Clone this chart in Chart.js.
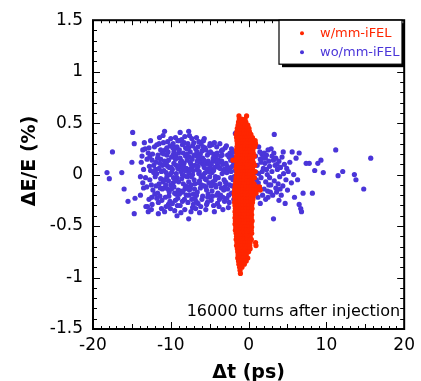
<!DOCTYPE html>
<html>
<head>
<meta charset="utf-8">
<script src="https://cdn.jsdelivr.net/npm/chart.js@4"></script>
<style>
  body { margin: 0; background: #fff; }
  canvas { display: block; }
</style>
</head>
<body>
<canvas id="chart" width="421" height="381"></canvas>
<script>
// axis ranges / tick labels
const xTicks = [-20, -10, 0, 10, 20];
const yTicks = [-1.5, -1, -0.5, 0, 0.5, 1, 1.5];

// wo/mm-iFEL : [dt (ps), dE/E (%)]
const woIFEL = [
  [-18.2,0.02],[-17.9,-0.04],[-17.5,0.22],[-16.3,0.02],[-16.0,-0.14],[-15.5,-0.26],[-14.9,0.41],
  [-14.7,-0.38],[-14.6,-0.23],[-14.7,0.30],[-15.0,0.12],[-13.6,0.24],[-13.5,-0.13],[-13.0,-0.31],[-12.5,-0.34],
  [-13.8,0.12],[-13.6,-0.08],[-13.9,-0.2],[-13.3,0.25],[-13.5,0.05],[-13.2,-0.31],[-13.7,0.18],[-13.1,-0.12],[-13.4,0.31],[-13.9,-0.02],
  [-12.9,0.21],[-12.7,-0.05],[-12.4,0.14],[-12.8,-0.24],[-12.2,0.02],[-12.6,0.33],[-12.3,-0.15],[-12.1,0.27],[-12.9,-0.36],[-12.5,-0.1],
  [-12.2,0.09],[-12.7,0.17],[-12.4,-0.29],[-12.0,-0.02],[-12.6,0.04],[-12.8,0.26],
  [-12.35,0.2],[-12.05,-0.19],[-12.75,0.08],[-13.25,-0.03],[-13.05,0.15],[-12.45,-0.22],
  [-11.9,0.12],[-11.7,-0.18],[-11.5,0.3],[-11.3,-0.04],[-11.1,0.21],[-11.8,0.01],[-11.6,-0.27],[-11.4,0.11],[-11.2,-0.33],[-11.0,0.38],
  [-11.9,-0.11],[-11.5,0.06],[-11.3,0.24],[-11.7,0.16],[-11.1,-0.14],[-11.6,-0.38],[-11.2,0.03],[-11.4,-0.21],[-11.8,0.29],[-11.0,-0.07],
  [-11.3,0.15],[-11.5,-0.09],[-11.95,0.05],[-11.65,0.19],[-11.35,-0.13],[-11.05,0.09],[-11.8,-0.23],[-11.45,0.36],[-11.15,-0.25],
  [-10.9,0.04],[-10.7,-0.22],[-10.5,0.19],[-10.3,-0.06],[-10.1,0.28],[-10.8,0.13],[-10.6,-0.31],[-10.4,0.08],[-10.2,-0.17],[-10.0,0.35],
  [-10.9,-0.13],[-10.7,0.24],[-10.5,-0.02],[-10.3,0.14],[-10.1,-0.26],[-10.8,-0.36],[-10.6,0.02],[-10.4,0.32],[-10.2,0.07],[-10.0,-0.1],
  [-10.7,0.1],[-10.3,-0.29],[-10.5,0.26],[-10.1,0.0],[-10.9,0.2],[-10.4,-0.14],[-10.8,0.42],
  [-10.85,-0.05],[-10.55,0.12],[-10.25,-0.21],[-10.95,0.31],[-10.65,-0.1],[-10.35,0.22],[-10.05,-0.33],
  [-9.9,0.17],[-9.7,-0.08],[-9.5,0.25],[-9.3,-0.19],[-9.1,0.06],[-9.8,-0.28],[-9.6,0.11],[-9.4,0.36],[-9.2,-0.03],[-9.0,0.21],
  [-9.9,-0.14],[-9.7,0.3],[-9.5,-0.35],[-9.3,0.01],[-9.1,-0.23],[-9.8,0.05],[-9.6,-0.12],[-9.4,0.15],[-9.2,0.27],[-9.0,-0.07],
  [-9.7,0.19],[-9.3,0.09],[-9.5,-0.18],[-9.1,0.33],[-9.9,0.02],[-9.4,-0.25],[-9.6,0.22],[-9.2,-0.4],
  [-9.95,0.07],[-9.65,-0.03],[-9.35,0.18],[-9.05,-0.15],[-9.75,0.26],[-9.45,-0.06],[-9.15,-0.3],
  [-8.9,0.08],[-8.7,-0.16],[-8.5,0.29],[-8.3,-0.01],[-8.1,0.18],[-8.8,-0.3],[-8.6,0.13],[-8.4,-0.09],[-8.2,0.37],[-8.0,-0.2],
  [-8.9,0.24],[-8.7,0.03],[-8.5,-0.26],[-8.3,0.11],[-8.1,-0.11],[-8.8,0.16],[-8.6,-0.04],[-8.4,0.21],[-8.2,-0.34],[-8.0,0.06],
  [-8.7,-0.37],[-8.3,0.31],[-8.5,0.0],[-8.1,0.26],[-8.9,-0.19],[-8.4,0.09],[-8.6,0.34],[-8.2,-0.14],[-8.8,0.41],
  [-8.75,0.12],[-8.45,-0.17],[-8.15,0.04],[-8.85,0.33],[-8.55,0.07],[-8.25,-0.24],
  [-7.9,0.14],[-7.7,-0.07],[-7.5,0.22],[-7.3,-0.24],[-7.1,0.04],[-7.8,0.3],[-7.6,-0.15],[-7.4,0.1],[-7.2,-0.32],[-7.0,0.19],
  [-7.9,-0.02],[-7.7,0.26],[-7.5,-0.12],[-7.3,0.07],[-7.1,-0.19],[-7.8,-0.27],[-7.6,0.17],[-7.4,-0.36],[-7.2,0.28],[-7.0,-0.05],
  [-7.7,0.02],[-7.3,0.35],[-7.5,0.12],[-7.1,-0.29],[-7.9,0.2],[-7.4,-0.1],[-7.6,0.38],[-7.2,0.0],[-7.7,0.42],[-7.7,-0.43],
  [-7.85,-0.12],[-7.55,0.05],[-7.25,0.15],[-7.95,0.25],[-7.65,-0.2],[-7.35,-0.02],[-7.05,0.31],
  [-6.9,0.09],[-6.7,-0.2],[-6.5,0.27],[-6.3,-0.06],[-6.1,0.15],[-6.8,-0.33],[-6.6,0.05],[-6.4,0.32],[-6.2,-0.13],[-6.0,0.23],
  [-6.9,-0.09],[-6.7,0.18],[-6.5,-0.28],[-6.3,0.12],[-6.1,-0.02],[-6.8,0.25],[-6.6,-0.17],[-6.4,0.01],[-6.2,0.2],[-6.0,-0.24],
  [-6.7,0.36],[-6.3,-0.37],[-6.5,0.08],[-6.1,0.3],[-6.9,-0.23],[-6.4,-0.08],[-6.6,0.13],
  [-6.95,-0.14],[-6.65,0.22],[-6.35,0.03],[-6.05,-0.1],[-6.75,-0.26],[-6.45,0.17],[-6.15,-0.31],
  [-5.9,0.16],[-5.7,-0.11],[-5.5,0.24],[-5.3,-0.27],[-5.1,0.03],[-5.8,0.33],[-5.6,-0.04],[-5.4,0.11],[-5.2,-0.19],[-5.0,0.28],
  [-5.9,-0.21],[-5.7,0.07],[-5.5,-0.34],[-5.3,0.19],[-5.1,-0.08],[-5.8,0.0],[-5.6,0.26],[-5.4,-0.15],[-5.2,0.13],[-5.0,-0.02],
  [-5.7,0.35],[-5.3,0.05],[-5.5,-0.12],[-5.1,0.21],[-5.9,0.1],[-5.4,-0.29],
  [-5.75,0.14],[-5.45,-0.05],[-5.15,0.1],[-5.85,0.27],[-5.55,0.02],[-5.25,-0.22],
  [-4.9,0.06],[-4.7,-0.16],[-4.5,0.2],[-4.3,-0.05],[-4.1,0.27],[-4.8,-0.25],[-4.6,0.13],[-4.4,0.31],[-4.2,-0.12],[-4.0,0.09],
  [-4.9,0.22],[-4.7,0.02],[-4.5,-0.3],[-4.3,0.15],[-4.1,-0.2],[-4.8,0.1],[-4.6,-0.07],[-4.4,-0.36],[-4.2,0.18],[-4.0,-0.28],
  [-4.7,0.29],[-4.3,-0.1],[-4.5,0.04],[-4.1,0.12],
  [-4.85,-0.11],[-4.55,0.16],[-4.25,-0.02],[-4.95,0.3],[-4.65,-0.21],[-4.35,0.07],[-4.05,0.21],
  [-3.9,0.14],[-3.7,-0.09],[-3.5,0.23],[-3.3,-0.22],[-3.1,0.05],[-3.8,-0.31],[-3.6,0.18],[-3.4,0.01],[-3.2,-0.15],[-3.0,0.26],
  [-3.9,-0.03],[-3.7,0.3],[-3.5,-0.13],[-3.3,0.1],[-3.1,-0.26],[-3.8,0.07],[-3.6,-0.2],[-3.4,0.19],[-3.2,0.03],[-3.0,-0.07],
  [-3.7,0.12],[-3.3,-0.34],
  [-3.95,-0.18],[-3.65,0.06],[-3.35,0.24],[-3.05,-0.12],[-3.75,-0.24],[-3.45,0.13],[-3.15,-0.05],
  [-2.9,0.11],[-2.7,-0.14],[-2.5,0.17],[-2.3,-0.03],[-2.1,0.08],[-2.8,-0.23],[-2.6,0.04],[-2.4,0.21],[-2.2,-0.18],[-2.0,0.13],
  [-2.9,-0.08],[-2.7,0.19],[-2.5,-0.27],[-2.3,0.14],[-2.1,-0.11],[-2.8,0.02],[-2.6,-0.32],[-2.4,0.06],[-2.2,0.25],[-2.0,-0.05],
  [-2.75,0.08],[-2.45,-0.1],[-2.15,0.18],[-2.85,0.28],[-2.55,-0.2],[-2.25,0.03],
  [-1.9,0.1],[-1.8,-0.12],[-1.7,0.04],[-1.6,-0.2],[-1.9,-0.24],[-1.7,0.16],[-1.7,0.4],[-1.85,-0.02],[-1.95,0.22],
  [0.9,0.18],[1.0,-0.05],[1.1,0.09],[1.2,-0.22],[1.3,0.27],[1.0,0.02],[1.4,-0.12],[1.5,0.15],[1.6,-0.03],[1.7,0.2],
  [1.8,-0.2],[1.9,0.06],[2.0,-0.14],[2.1,0.11],[2.2,-0.07],[2.3,0.19],[2.4,0.0],[2.5,0.24],[2.5,-0.22],[2.6,-0.1],
  [2.7,0.08],[2.8,-0.17],[2.9,0.25],[3.0,0.03],[3.1,-0.2],[3.2,0.14],[3.3,-0.06],[3.4,0.09],[3.5,-0.13],[3.6,-0.17],
  [3.7,0.05],[3.8,-0.09],[3.9,0.13],[4.0,-0.02],[4.1,0.07],[4.2,-0.2],[4.3,0.17],[4.4,-0.11],[4.5,0.01],[4.6,0.1],
  [4.7,-0.28],[4.8,-0.05],[4.9,0.06],[5.0,-0.15],[5.1,0.03],[5.3,0.12],[5.5,-0.08],[5.6,0.22],[5.8,0.0],[5.9,-0.22],
  [6.1,0.16],[6.3,-0.05],[6.5,0.21],[1.3,0.01],[1.6,0.12],[2.0,0.21],[2.2,-0.24],[1.1,-0.15],[1.8,0.16],[2.7,-0.03],
  [3.0,0.18],[3.5,0.16],[3.9,-0.25],[0.8,-0.18],[1.5,-0.28],[2.3,0.05],[2.6,0.13],
  [1.25,-0.08],[1.75,0.03],[2.15,0.16],[2.85,-0.1],[3.25,0.21],[3.65,0.1],[4.05,-0.14],[4.45,0.22],[1.45,0.22],[2.45,-0.16],
  [3.3,0.39],[3.2,-0.43],[6.5,-0.29],[6.7,-0.33],[6.8,-0.36],[7.0,-0.18],[7.4,0.11],[7.8,0.11],[8.2,-0.18],[8.5,0.04],
  [8.9,0.11],[9.3,0.14],[9.6,0.02],[11.2,0.24],[11.5,-0.01],[12.1,0.03],[13.6,0.0],[13.8,-0.05],[14.8,-0.14],[15.7,0.16]
];

// w/mm-iFEL : rows of [dE/E (%), dt values (ps)]
const wIFELRows = [
  [0.57, [-1.24, -0.26]],
  [0.54, [-1.2, -0.9, -0.45]],
  [0.51, [-1.3, -1.0, -0.7, -0.35]],
  [0.48, [-1.35, -1.05, -0.75, -0.4, -0.1]],
  [0.45, [-1.45, -1.1, -0.8, -0.5, -0.2, 0.05]],
  [0.42, [-1.5, -1.2, -0.9, -0.55, -0.25, 0.1]],
  [0.39, [-1.6, -1.25, -0.95, -0.6, -0.3, 0.0, 0.3]],
  [0.36, [-1.55, -1.2, -0.85, -0.5, -0.2, 0.15, 0.5]],
  [0.33, [-1.5, -1.15, -0.8, -0.45, -0.1, 0.25, 0.6, 0.85]],
  [0.30, [-1.45, -1.1, -0.75, -0.4, -0.05, 0.3, 0.65, 0.9]],
  [0.27, [-1.5, -1.15, -0.8, -0.45, -0.1, 0.25, 0.6, 0.8]],
  [0.24, [-1.55, -1.2, -0.85, -0.5, -0.15, 0.2, 0.55]],
  [0.21, [-1.5, -1.15, -0.8, -0.45, -0.1, 0.25, 0.6]],
  [0.18, [-1.55, -1.2, -0.85, -0.5, -0.15, 0.2, 0.55, 0.75]],
  [0.15, [-1.6, -1.25, -0.9, -0.55, -0.2, 0.15, 0.5]],
  [0.12, [-1.5, -1.15, -0.8, -0.45, -0.1, 0.25, 0.6]],
  [0.09, [-1.55, -1.2, -0.85, -0.5, -0.15, 0.2, 0.55, 0.8]],
  [0.06, [-1.6, -1.25, -0.9, -0.55, -0.2, 0.15, 0.5]],
  [0.03, [-1.5, -1.15, -0.8, -0.45, -0.1, 0.25, 0.6, 0.85]],
  [0.00, [-1.55, -1.2, -0.85, -0.5, -0.15, 0.2, 0.55]],
  [-0.03, [-1.6, -1.25, -0.9, -0.55, -0.2, 0.15, 0.5, 0.75]],
  [-0.06, [-1.65, -1.3, -0.95, -0.6, -0.25, 0.1, 0.45]],
  [-0.09, [-1.7, -1.35, -1.0, -0.65, -0.3, 0.05, 0.4, 0.7]],
  [-0.12, [-1.75, -1.4, -1.05, -0.7, -0.35, 0.0, 0.35, 0.7, 1.05, 1.4]],
  [-0.15, [-1.8, -1.45, -1.1, -0.75, -0.4, -0.05, 0.3, 0.65, 1.0, 1.5]],
  [-0.18, [-1.85, -1.5, -1.15, -0.8, -0.45, -0.1, 0.25, 0.6, 0.95]],
  [-0.21, [-1.8, -1.45, -1.1, -0.75, -0.4, -0.05, 0.3, 0.6]],
  [-0.24, [-1.75, -1.4, -1.05, -0.7, -0.35, 0.0, 0.35, 0.55]],
  [-0.27, [-1.8, -1.45, -1.1, -0.75, -0.4, -0.05, 0.3, 0.5]],
  [-0.30, [-1.75, -1.4, -1.05, -0.7, -0.35, 0.0, 0.4]],
  [-0.33, [-1.7, -1.35, -1.0, -0.65, -0.3, 0.05, 0.45]],
  [-0.36, [-1.75, -1.4, -1.05, -0.7, -0.35, 0.0, 0.35]],
  [-0.39, [-1.7, -1.35, -1.0, -0.65, -0.3, 0.05, 0.4]],
  [-0.42, [-1.75, -1.4, -1.05, -0.7, -0.35, 0.0, 0.35]],
  [-0.45, [-1.7, -1.35, -1.0, -0.65, -0.3, 0.05, 0.45]],
  [-0.48, [-1.75, -1.4, -1.05, -0.7, -0.35, 0.0, 0.35]],
  [-0.51, [-1.65, -1.3, -0.95, -0.6, -0.25, 0.1, 0.4]],
  [-0.54, [-1.7, -1.35, -1.0, -0.65, -0.3, 0.05, 0.35]],
  [-0.57, [-1.6, -1.25, -0.9, -0.55, -0.2, 0.15, 0.4]],
  [-0.60, [-1.55, -1.2, -0.85, -0.5, -0.15, 0.2]],
  [-0.63, [-1.6, -1.25, -0.9, -0.55, -0.2, 0.15, 0.35]],
  [-0.66, [-1.5, -1.15, -0.8, -0.45, -0.1, 0.2, 0.9]],
  [-0.69, [-1.55, -1.2, -0.85, -0.5, -0.15, 0.15, 0.95]],
  [-0.72, [-1.45, -1.1, -0.75, -0.4, -0.05, 0.2]],
  [-0.75, [-1.4, -1.05, -0.7, -0.35, 0.0]],
  [-0.78, [-1.35, -1.0, -0.65, -0.3]],
  [-0.81, [-1.4, -1.05, -0.7, -0.35, -0.1]],
  [-0.84, [-1.3, -0.95, -0.6, -0.3]],
  [-0.87, [-1.25, -0.9, -0.55]],
  [-0.90, [-1.15, -0.85]],
  [-0.93, [-1.1]],
  [-0.96, [-1.05]],
  [0.14, [-2.0]]
];

const seriesLabels = ['w/mm-iFEL', 'wo/mm-iFEL'];
const seriesColors = ['#ff2600', '#4a35d9'];
const note = '16000 turns after injection';

const wData = wIFELRows.flatMap(r => r[1].map(x => ({ x: x, y: r[0] })));
const woData = woIFEL.map(p => ({ x: p[0], y: p[1] }));

// frame, inside ticks, legend box, note
const decorations = {
  id: 'decorations',
  afterDatasetsDraw(chart) {
    const ctx = chart.ctx;
    const a = chart.chartArea;
    const xs = chart.scales.x, ys = chart.scales.y;
    ctx.save();
    ctx.strokeStyle = '#000';
    ctx.lineWidth = 1;
    ctx.beginPath();
    for (let v = -20; v <= 20; v++) {
      const len = v % 10 === 0 ? 7 : (v % 5 === 0 ? 5 : 3);
      const px = Math.round(xs.getPixelForValue(v)) + 0.5;
      ctx.moveTo(px, a.bottom); ctx.lineTo(px, a.bottom - len);
      ctx.moveTo(px, a.top); ctx.lineTo(px, a.top + len);
    }
    for (let i = -15; i <= 15; i++) {
      const len = i % 5 === 0 ? 7 : 4;
      const py = Math.round(ys.getPixelForValue(i / 10)) + 0.5;
      ctx.moveTo(a.left, py); ctx.lineTo(a.left + len, py);
      ctx.moveTo(a.right, py); ctx.lineTo(a.right - len, py);
    }
    ctx.stroke();
    ctx.lineWidth = 2;
    ctx.strokeRect(a.left, a.top, a.right - a.left, a.bottom - a.top);

    // legend box with drop shadow
    const bx = 279, by = a.top, bw = 123, bh = 44;
    ctx.fillStyle = '#000';
    ctx.fillRect(bx + 3, by + 3, bw, bh);
    ctx.fillStyle = '#fff';
    ctx.fillRect(bx, by, bw, bh);
    ctx.lineWidth = 1.2;
    ctx.strokeRect(bx, by, bw, bh);
    ctx.font = '13px "DejaVu Sans"';
    ctx.textBaseline = 'middle';
    ctx.textAlign = 'left';
    seriesLabels.forEach((t, i) => {
      const ty = by + 13 + i * 19;
      ctx.fillStyle = seriesColors[i];
      ctx.beginPath();
      ctx.arc(bx + 23, ty, 2, 0, Math.PI * 2);
      ctx.fill();
      ctx.fillText(t, bx + 41, ty);
    });

    // note
    ctx.fillStyle = '#000';
    ctx.font = '16px "DejaVu Sans"';
    ctx.textAlign = 'right';
    ctx.textBaseline = 'alphabetic';
    ctx.fillText(note, a.right - 4, a.bottom - 13);

    // y title
    ctx.translate(30, 161);
    ctx.rotate(-Math.PI / 2);
    ctx.font = 'bold 19px "DejaVu Sans"';
    ctx.textAlign = 'center';
    ctx.textBaseline = 'middle';
    ctx.fillText('\u0394E/E (%)', 0, 0);
    ctx.restore();
  }
};

const ctx = document.getElementById('chart').getContext('2d');
new Chart(ctx, {
  type: 'scatter',
  data: {
    datasets: [{
      label: seriesLabels[0],
      data: wData,
      backgroundColor: seriesColors[0],
      borderWidth: 0,
      pointRadius: 2.6
    }, {
      label: seriesLabels[1],
      data: woData,
      backgroundColor: seriesColors[1],
      borderWidth: 0,
      pointRadius: 2.6
    }]
  },
  options: {
    responsive: false,
    animation: false,
    devicePixelRatio: 1,
    layout: { padding: { left: 0, right: 16, top: 20, bottom: 0 } },
    plugins: {
      legend: { display: false },
      tooltip: { enabled: false }
    },
    scales: {
      x: {
        min: -20,
        max: 20,
        afterFit: s => { s.height = 52; },
        afterBuildTicks: s => { s.ticks = xTicks.map(v => ({ value: v })); },
        grid: { display: false, drawTicks: false },
        border: { display: false },
        ticks: {
          color: '#000',
          padding: 6,
          maxRotation: 0,
          font: { family: '"DejaVu Sans"', size: 17 },
          callback: v => String(v)
        },
        title: {
          display: true,
          text: '\u0394t (ps)',
          color: '#000',
          padding: { top: 4, bottom: -3 },
          font: { family: '"DejaVu Sans"', size: 19, weight: 'bold' }
        }
      },
      y: {
        min: -1.5,
        max: 1.5,
        afterFit: s => { s.width = 93; },
        afterBuildTicks: s => { s.ticks = yTicks.map(v => ({ value: v })); },
        grid: { display: false, drawTicks: false },
        border: { display: false },
        ticks: {
          color: '#000',
          padding: 10,
          font: { family: '"DejaVu Sans"', size: 17 },
          callback: v => String(v)
        }
      }
    }
  },
  plugins: [decorations]
});
</script>
</body>
</html>
